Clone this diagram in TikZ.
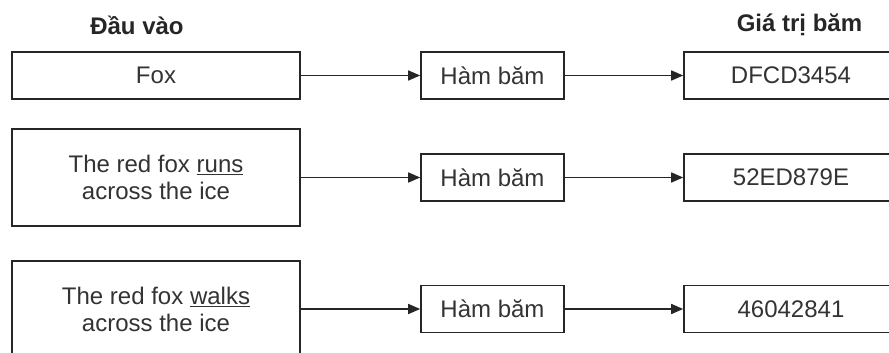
\documentclass[tikz,border=0pt]{standalone}
\usepackage{fontspec}
\setmainfont{Liberation Sans}
\usetikzlibrary{arrows.meta}
\begin{document}
\begin{tikzpicture}[x=1pt,y=-1pt,
  box/.style={draw=black!85, line width=1.6pt, fill=white, inner sep=0pt,
    align=center, font=\fontsize{24}{27}\selectfont, text=black!80},
  inbox/.style={box, minimum width=288pt},
  hashbox/.style={box, minimum width=143pt, minimum height=47pt},
  outbox/.style={box, minimum width=214pt, minimum height=47pt},
  link/.style={draw=black!85, line width=1.6pt, -{Triangle[length=12pt,width=10pt]}},
  head/.style={font=\fontsize{24}{28}\selectfont\bfseries, text=black!85}]
\useasboundingbox (0,0) rectangle (889,353);
\clip (0,0) rectangle (889,353);

% column headings
\node[head] (hin) at (137,25) {Đầu vào};
\node[head] (hout) at (799.5,25) {Giá trị băm};

% row 1
\node[inbox, minimum height=47pt] (in1) at (156,75.5) {Fox};
\node[hashbox] (h1) at (492.5,75.5) {Hàm băm};
\node[outbox] (o1) at (791,75.5) {DFCD3454};

% row 2
\node[inbox, minimum height=97pt] (in2) at (156,177.5) {The red fox \underline{runs}\\across the ice};
\node[hashbox] (h2) at (492.5,177.5) {Hàm băm};
\node[outbox] (o2) at (791,177.5) {52ED879E};

% row 3
\node[inbox, minimum height=96pt] (in3) at (156,309) {The red fox \underline{walks}\\across the ice};
\node[hashbox] (h3) at (492.5,309) {Hàm băm};
\node[outbox] (o3) at (791,309) {46042841};

% connectors
\foreach \r in {1,2,3} {
  \draw[link] (in\r) -- (h\r);
  \draw[link] (h\r) -- (o\r);
}
\end{tikzpicture}
\end{document}
